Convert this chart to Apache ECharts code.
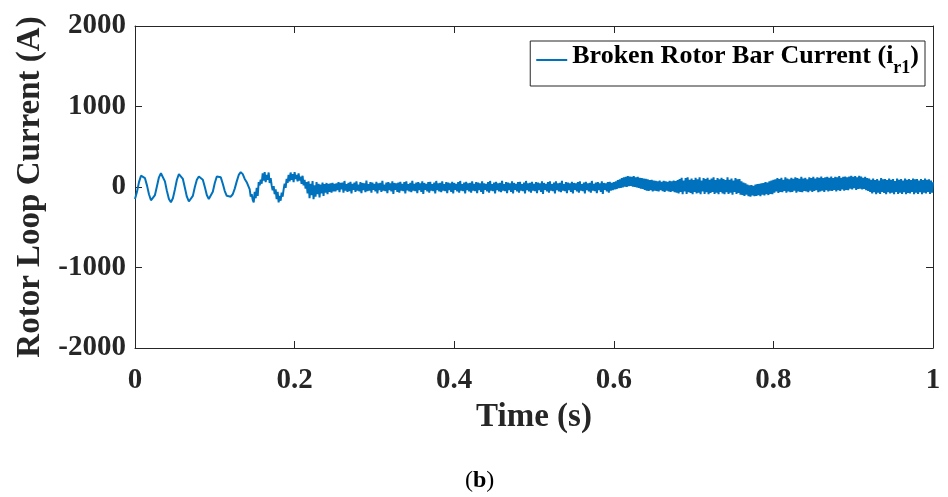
<!DOCTYPE html>
<html>
<head>
<meta charset="utf-8">
<script src="https://cdn.jsdelivr.net/npm/echarts@6/dist/echarts.min.js"></script>
<style>
html,body{margin:0;padding:0;background:#fff;}
#chart{width:948px;height:497px;}
</style>
</head>
<body>
<div id="chart"></div>
<script>
// Start-up oscillation, sampled every 2.5 ms, t = 0 ... 0.1375 s
const startupStep = 0.0025;
const currentStartup = [
  -150,-60,60,140,160,110,20,-90,-165,-170,
  -100,10,120,170,150,70,-50,-150,-190,-140,
  -30,90,160,165,100,-10,-120,-180,-185,-110,
  0,90,130,135,90,0,-100,-150,-140,-60,
  50,130,150,120,40,-50,-110,-125,-120,-90,
  -20,70,150,185,160,100
];

// Remaining samples every 1.25 ms, starting after t = 0.1375 s
const fineStart = 0.1375;
const fineStep = 0.00125;

// t = 0.13875 ... 0.25 s (transition)
const currentTransition = [
  80,60,70,50,
  -30,-120,-90,-160,
  -190,-60,-140,-10,
  -110,60,20,90,
  40,170,80,185,60,150,90,180,50,110,
  20,-40,10,-90,-30,-150,-60,-190,-110,-170,-70,-120,-30,
  40,-10,100,50,150,70,180,90,160,60,185,100,150,70,170,80,130,40,140,20,90,-20,
  60,-80,70,-140,40,-100,75,-150,20,-120,60,-90,40,-130,30,-80,55,-110,35,-70,50,-90,40,
  -60,45,-70,50,-55,40
];

// t = 0.25125 ... 0.60 s (quasi steady state)
const currentSteady = [
  -55,45,-40,60,-65,50,-30,55,-70,75,-45,35,-60,50,-50,65,-80,40,-35,55,
  -60,70,-45,30,-55,60,-75,50,-40,45,-65,80,-50,35,-45,60,-70,55,-35,40,
  -55,65,-80,45,-40,50,-60,75,-45,30,-50,55,-75,60,-40,45,-55,70,-85,50,
  -35,45,-60,55,-70,65,-45,40,-50,60,-80,70,-40,35,-55,50,-65,75,-45,40,
  -50,55,-75,60,-40,45,-60,70,-85,50,-35,40,-55,60,-70,65,-45,35,-50,55,
  -80,75,-40,45,-55,50,-65,70,-45,35,-50,60,-75,55,-40,45,-60,65,-80,50,
  -35,40,-55,60,-70,75,-45,35,-50,55,-80,65,-40,45,-55,50,-70,70,-45,40,
  -50,60,-75,55,-40,45,-60,70,-85,45,-35,40,-55,60,-70,75,-45,35,-50,55,
  -80,65,-40,45,-55,50,-65,75,-45,35,-50,60,-75,55,-40,45,-60,70,-80,50,
  -35,40,-55,60,-70,65,-45,35,-50,55,-80,75,-40,45,-55,50,-70,65,-45,40,
  -50,60,-75,55,-40,45,-60,70,-85,50,-35,40,-55,60,-70,70,-45,35,-50,55,
  -80,70,-40,45,-55,50,-65,75,-45,35,-50,60,-75,55,-40,45,-60,65,-80,50,
  -35,45,-55,60,-70,70,-45,35,-50,55,-80,65,-40,45,-55,50,-70,75,-45,40,
  -50,55,-75,60,-40,45,-60,70,-85,50,-35,45,-55,60,-70,65,-45,50,-40,60
];

// t = 0.60 ... 0.80 s (bump near 0.62 s, dip near 0.78 s)
const currentMiddle = [
  -30,70,-25,85,-15,95,-10,110,-5,120,5,125,0,135,10,130,
  15,125,5,135,0,120,-5,125,-10,115,-20,110,-25,105,-35,100,
  -45,95,-50,85,-40,90,-55,80,-45,75,-50,70,-55,80,-40,65,
  -50,75,-60,70,-45,65,-55,75,-60,70,-50,80,-65,75,-70,85,
  -80,100,-60,115,-90,80,-55,110,-85,120,-65,90,-75,105,-90,85,
  -60,115,-80,95,-70,120,-90,80,-55,110,-85,100,-65,115,-90,90,
  -75,105,-60,120,-85,85,-70,110,-90,95,-60,115,-80,100,-90,85,
  -65,120,-85,90,-70,105,-95,80,-60,110,-85,95,-75,100,-95,70,
  -100,55,-110,45,-95,30,-115,20,-120,25,-105,15,-115,30,-110,35,
  -100,40,-115,45,-95,50,-105,60,-90,55,-100,70,-85,80,-90,90
];

// t = 0.80 ... 1.0 s
const currentLate = [
  -70,95,-55,110,-75,100,-60,115,-65,90,-50,120,-70,105,-55,95,-65,115,-60,100,
  -45,120,-70,110,-55,100,-60,125,-65,105,-50,115,-55,95,-65,120,-45,110,-60,125,
  -50,105,-40,120,-65,115,-55,130,-45,110,-60,120,-40,125,-55,115,-45,130,-50,110,
  -35,125,-55,120,-40,135,-50,115,-30,125,-45,130,-35,120,-40,130,
  -20,140,-30,125,-15,135,-35,120,-25,140,-20,130,-30,115,-25,125,-40,110,-50,105,
  -60,90,-80,105,-65,85,-90,100,-70,80,-85,110,-60,95,-75,100,
  -90,85,-65,105,-80,90,-70,100,-90,75,-60,105,-85,90,-70,100,
  -85,80,-65,105,-90,90,-75,100,-80,85,-60,105,-90,95,-70,100,
  -85,80,-65,100,-90,85,-70,105,-80,90,-60,95,-85,80,-70,60
];

const xTicks = { min: 0, max: 1, interval: 0.2 };
const yTicks = { min: -2000, max: 2000, interval: 1000 };
const seriesName = 'Broken Rotor Bar Current';

const fineValues = currentTransition.concat(currentSteady, currentMiddle, currentLate);
const seriesData = currentStartup.map((v, i) => [+(i * startupStep).toFixed(5), v])
  .concat(fineValues.map((v, j) => [+(fineStart + (j + 1) * fineStep).toFixed(5), v]));

const FONT = 'Liberation Serif';
const AX = '#262626';

const chart = echarts.init(document.getElementById('chart'), null, { renderer: 'canvas' });
const baseAxisLine = { show: true, onZero: false, lineStyle: { color: AX, width: 1 } };
const tickStyle = { show: true, inside: true, length: 7, lineStyle: { color: AX, width: 1 } };

chart.setOption({
  animation: false,
  backgroundColor: '#fff',
  title: {
    text: '({b|b})',
    left: 460,
    top: 464,
    textStyle: {
      fontFamily: FONT, fontSize: 24, fontWeight: 'normal', color: '#000',
      rich: { b: { fontFamily: FONT, fontSize: 24, fontWeight: 'bold', color: '#000' } }
    }
  },
  grid: { left: 135, right: 15, top: 26, bottom: 149, containLabel: false },
  legend: {
    show: true,
    right: 23,
    top: 41,
    padding: [2, 6, 9, 6],
    backgroundColor: '#fff',
    borderColor: AX,
    borderWidth: 1,
    icon: 'rect',
    itemWidth: 31,
    itemHeight: 2,
    data: [seriesName],
    formatter: () => '{m|Broken Rotor Bar Current (i}{s|r1}{m|)}',
    textStyle: {
      fontFamily: FONT, fontWeight: 'bold', fontSize: 26, color: '#000',
      rich: {
        m: { fontFamily: FONT, fontWeight: 'bold', fontSize: 26, color: '#000', lineHeight: 34, verticalAlign: 'top' },
        s: { fontFamily: FONT, fontWeight: 'bold', fontSize: 18, color: '#000', lineHeight: 18, verticalAlign: 'bottom' }
      }
    }
  },
  xAxis: [
    {
      type: 'value', position: 'bottom', min: xTicks.min, max: xTicks.max, interval: xTicks.interval,
      axisLine: baseAxisLine, axisTick: tickStyle, splitLine: { show: false },
      axisLabel: { fontFamily: FONT, fontWeight: 'bold', fontSize: 29, color: AX, margin: 18 },
      name: 'Time (s)', nameLocation: 'middle', nameGap: 53,
      nameTextStyle: { fontFamily: FONT, fontWeight: 'bold', fontSize: 33, color: AX }
    },
    {
      type: 'value', position: 'top', min: xTicks.min, max: xTicks.max, interval: xTicks.interval,
      axisLine: baseAxisLine, axisTick: tickStyle, splitLine: { show: false },
      axisLabel: { show: false }
    }
  ],
  yAxis: [
    {
      type: 'value', position: 'left', min: yTicks.min, max: yTicks.max, interval: yTicks.interval,
      axisLine: baseAxisLine, axisTick: tickStyle, splitLine: { show: false },
      axisLabel: {
        fontFamily: FONT, fontWeight: 'bold', fontSize: 29, color: AX, margin: 9,
        padding: [6, 0, 0, 0],
        formatter: (v) => String(v)
      },
      name: 'Rotor Loop Current (A)', nameLocation: 'middle', nameGap: 85,
      nameTextStyle: { fontFamily: FONT, fontWeight: 'bold', fontSize: 33, color: AX }
    },
    {
      type: 'value', position: 'right', min: yTicks.min, max: yTicks.max, interval: yTicks.interval,
      axisLine: baseAxisLine, axisTick: tickStyle, splitLine: { show: false },
      axisLabel: { show: false }
    }
  ],
  series: [
    {
      name: seriesName,
      type: 'line',
      xAxisIndex: 0,
      yAxisIndex: 0,
      data: seriesData,
      showSymbol: false,
      symbol: 'none',
      sampling: null,
      color: '#0072BD',
      lineStyle: { color: '#0072BD', width: 2 },
      z: 1
    }
  ]
});
</script>
</body>
</html>
